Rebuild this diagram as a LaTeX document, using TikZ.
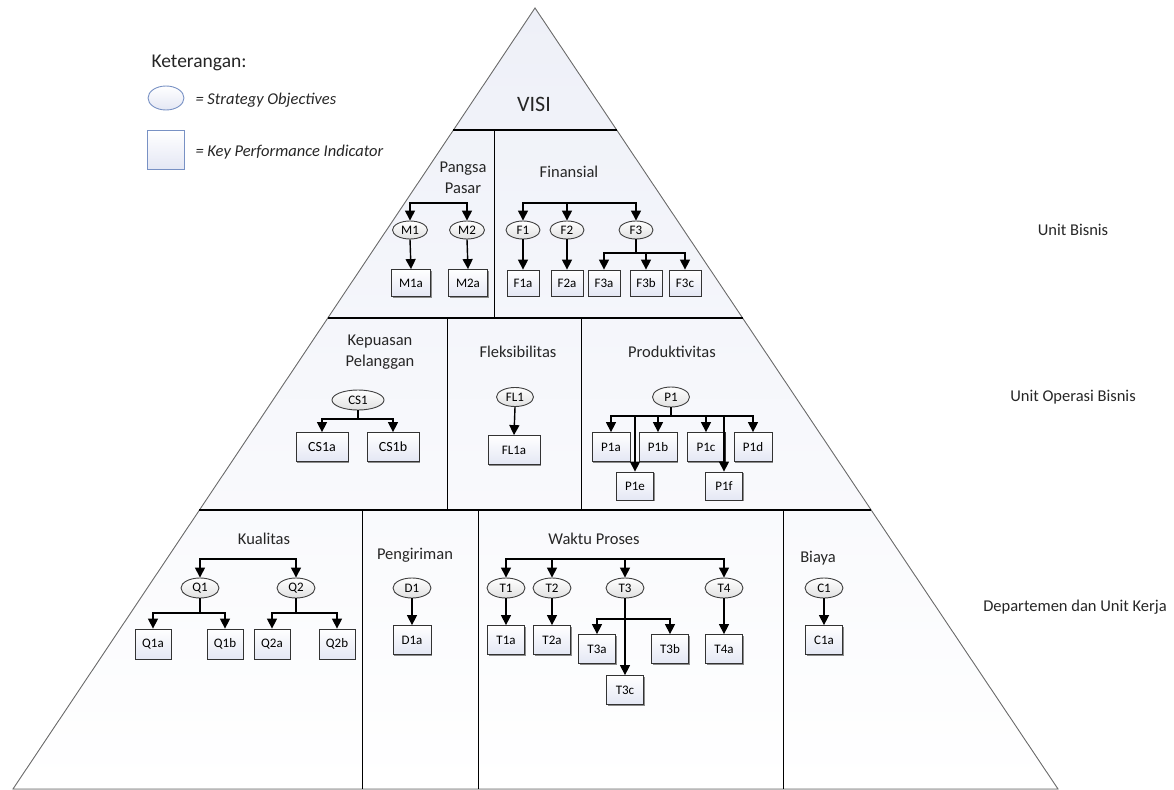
\documentclass[tikz,border=0pt]{standalone}
\usepackage{fontspec}
\setmainfont{Carlito}
\usetikzlibrary{arrows.meta,calc,shadows,shapes.geometric}
\definecolor{pyrtop}{RGB}{238,240,248}
\definecolor{kpibot}{RGB}{228,231,244}
\definecolor{legbl}{RGB}{120,145,196}
\definecolor{edgegray}{RGB}{110,110,110}
\begin{document}
\begin{tikzpicture}[x=1pt,y=-1pt,
  >={Triangle[width=10pt,length=10pt]},
  conn/.style={line width=1.4pt,black},
  so/.style={ellipse,draw=black!75,line width=0.9pt,top color=white,bottom color=black!12,
    inner sep=0pt,minimum width=37pt,minimum height=20pt,font=\fontsize{13}{13}\selectfont},
  kpi/.style={rectangle,draw=black!80,line width=0.8pt,top color=white,bottom color=kpibot,
    inner sep=0pt,minimum width=37pt,minimum height=29pt,font=\fontsize{13}{13}\selectfont,
    drop shadow={shadow xshift=1.4pt,shadow yshift=-1.4pt,fill=black!45,opacity=1}},
  ttl/.style={font=\fontsize{16.5}{21}\selectfont,align=center,text=black!85},
  lvl/.style={font=\fontsize{16.5}{20}\selectfont,text=black!85},
  divider/.style={line width=1.2pt,black}]
\useasboundingbox (0,0) rectangle (1174,789);
\coordinate (A) at (535,8);
\coordinate (BL) at (13,789);
\coordinate (BR) at (1058,789);
% pyramid
\fill[top color=pyrtop,bottom color=white] (A) -- (BR) -- (BL) -- cycle;
\draw[edgegray,line width=0.9pt] (A) -- (BR) -- (BL) -- cycle;
\draw[divider] ($(A)!{(130-8)/781}!(BL)$) -- ($(A)!{(130-8)/781}!(BR)$);
\draw[divider] ($(A)!{(318-8)/781}!(BL)$) -- ($(A)!{(318-8)/781}!(BR)$);
\draw[divider] ($(A)!{(510-8)/781}!(BL)$) -- ($(A)!{(510-8)/781}!(BR)$);
\draw[divider,line width=1pt] (494,130) -- (494,318);
\draw[divider,line width=1pt] (447,318) -- (447,510);
\draw[divider,line width=1pt] (581,318) -- (581,510);
\draw[divider,line width=1pt] (362,510) -- (362,789);
\draw[divider,line width=1pt] (478,510) -- (478,789);
\draw[divider,line width=1pt] (783,510) -- (783,789);

% legend
\node[anchor=west,font=\fontsize{19.5}{22}\selectfont,text=black!85] (leg) at (148,63) {Keterangan:};
\node[ellipse,draw=legbl,line width=0.9pt,top color=white,bottom color=kpibot,minimum width=36pt,minimum height=24pt,inner sep=0pt] (legE) at (166,98) {};
\node[anchor=west,font=\fontsize{16.5}{18}\selectfont\itshape,text=black!85] (legEt) at (192,100) {= Strategy Objectives};
\node[rectangle,draw=legbl,line width=0.9pt,top color=white,bottom color=kpibot,minimum width=37pt,minimum height=39pt,inner sep=0pt] (legR) at (166,150) {};
\node[anchor=west,font=\fontsize{16.5}{18}\selectfont\itshape,text=black!85] (legRt) at (192,152) {= Key Performance Indicator};

% VISI
\node[font=\fontsize{22}{24}\selectfont,text=black!85] (visi) at (534,104) {VISI};

% level labels
\node[lvl] (l1) at (1073,230) {Unit Bisnis};
\node[lvl] (l2) at (1073,397) {Unit Operasi Bisnis};
\node[lvl] (l3) at (1075,607) {Departemen dan Unit Kerja};

% ===== Top band =====
\node[ttl] (tPangsa) at (463,178) {Pangsa\\Pasar};
\node[ttl] (tFin) at (569,172) {Finansial};
\node[so,minimum width=35pt,minimum height=18pt] (M1) at (410,230) {M1};
\node[so,minimum width=35pt,minimum height=18pt] (M2) at (467,230) {M2};
\node[kpi,minimum width=39pt,minimum height=27pt] (M1a) at (411,283) {M1a};
\node[kpi,minimum width=39pt,minimum height=27pt] (M2a) at (468,283) {M2a};
\node[so,minimum width=34pt,minimum height=18pt] (F1) at (523,230) {F1};
\node[so,minimum width=34pt,minimum height=18pt] (F2) at (567,230) {F2};
\node[so,minimum width=34pt,minimum height=18pt] (F3) at (636,230) {F3};
\node[kpi,minimum width=32pt,minimum height=26pt] (F1a) at (523,283) {F1a};
\node[kpi,minimum width=32pt,minimum height=26pt] (F2a) at (567,283) {F2a};
\node[kpi,minimum width=32pt,minimum height=26pt] (F3a) at (604,283) {F3a};
\node[kpi,minimum width=32pt,minimum height=26pt] (F3b) at (646,283) {F3b};
\node[kpi,minimum width=32pt,minimum height=26pt] (F3c) at (685,283) {F3c};
\coordinate (busM) at (0,203);
\coordinate (busF3) at (0,253);
\draw[conn,<->] (M1.north) -- (M1.north |- busM) -- (M2.north |- busM) -- (M2.north);
\draw[conn,->] (M1.south) -- (M1a.north);
\draw[conn,->] (M2.south) -- (M2a.north);
\draw[conn,<->] (F1.north) -- (F1.north |- busM) -- (F3.north |- busM) -- (F3.north);
\draw[conn,->] (F2.north |- busM) -- (F2.north);
\draw[conn,->] (F1.south) -- (F1a.north);
\draw[conn,->] (F2.south) -- (F2a.north);
\draw[conn] (F3.south) -- (F3.south |- busF3);
\draw[conn,<->] (F3a.north) -- (F3a.north |- busF3) -- (F3c.north |- busF3) -- (F3c.north);
\draw[conn,->] (F3b.north |- busF3) -- (F3b.north);

% ===== Middle band =====
\node[ttl] (tKep) at (380,352) {Kepuasan\\Pelanggan};
\node[ttl] (tFlek) at (518,352) {Fleksibilitas};
\node[ttl] (tProd) at (672,352) {Produktivitas};
\node[so,minimum width=52pt,minimum height=20pt] (CS1) at (358,400) {CS1};
\node[kpi,minimum width=52pt,minimum height=29pt,font=\fontsize{14}{14}\selectfont] (CS1a) at (322,447) {CS1a};
\node[kpi,minimum width=52pt,minimum height=29pt,font=\fontsize{14}{14}\selectfont] (CS1b) at (393,447) {CS1b};
\coordinate (busCS) at (0,419);
\draw[conn] (CS1.south) -- (CS1.south |- busCS);
\draw[conn,<->] (CS1a.north) -- (CS1a.north |- busCS) -- (CS1b.north |- busCS) -- (CS1b.north);
\node[so,minimum width=37pt,minimum height=19pt] (FL1) at (515,397) {FL1};
\node[kpi,minimum width=52pt,minimum height=29pt] (FL1a) at (514,450) {FL1a};
\draw[conn,->] (FL1.south) -- (FL1a.north);
\node[so] (P1) at (671,397) {P1};
\node[kpi,minimum width=38pt] (P1a) at (611,447) {P1a};
\node[kpi,minimum width=38pt] (P1b) at (658,447) {P1b};
\node[kpi,minimum width=38pt] (P1c) at (706,447) {P1c};
\node[kpi,minimum width=38pt] (P1d) at (753,447) {P1d};
\node[kpi,minimum height=28pt] (P1e) at (635,486) {P1e};
\node[kpi,minimum height=28pt] (P1f) at (724,486) {P1f};
\coordinate (busP) at (0,416);
\draw[conn] (P1.south) -- (P1.south |- busP);
\draw[conn,<->] (P1a.north) -- (P1a.north |- busP) -- (P1d.north |- busP) -- (P1d.north);
\draw[conn,->] (P1b.north |- busP) -- (P1b.north);
\draw[conn,->] (P1c.north |- busP) -- (P1c.north);
\draw[conn,->] (P1e.north |- busP) -- (P1e.north);
\draw[conn,->] (P1f.north |- busP) -- (P1f.north);

% ===== Bottom band =====
\node[ttl] (tKual) at (264,539) {Kualitas};
\node[ttl] (tPeng) at (415,555) {Pengiriman};
\node[ttl] (tWaktu) at (594,539) {Waktu Proses};
\node[ttl] (tBiaya) at (818,558) {Biaya};
\coordinate (busTop) at (0,559);
\coordinate (busQ) at (0,613);
\coordinate (busT3) at (0,619);
\node[so,minimum width=38pt] (Q1) at (200,588) {Q1};
\node[so,minimum width=38pt] (Q2) at (296,588) {Q2};
\node[kpi,minimum width=36pt,minimum height=30pt] (Q1a) at (153,644) {Q1a};
\node[kpi,minimum width=36pt,minimum height=30pt] (Q1b) at (225,644) {Q1b};
\node[kpi,minimum width=36pt,minimum height=30pt] (Q2a) at (272,644) {Q2a};
\node[kpi,minimum width=36pt,minimum height=30pt] (Q2b) at (337,644) {Q2b};
\draw[conn,<->] (Q1.north) -- (Q1.north |- busTop) -- (Q2.north |- busTop) -- (Q2.north);
\draw[conn] (Q1.south) -- (Q1.south |- busQ);
\draw[conn,<->] (Q1a.north) -- (Q1a.north |- busQ) -- (Q1b.north |- busQ) -- (Q1b.north);
\draw[conn] (Q2.south) -- (Q2.south |- busQ);
\draw[conn,<->] (Q2a.north) -- (Q2a.north |- busQ) -- (Q2b.north |- busQ) -- (Q2b.north);

\node[so,minimum width=38pt] (D1) at (412,588) {D1};
\node[kpi,minimum width=38pt] (D1a) at (412,640) {D1a};
\draw[conn,->] (D1.south) -- (D1a.north);

\node[so,minimum width=38pt] (T1) at (506,588) {T1};
\node[so,minimum width=38pt] (T2) at (552,588) {T2};
\node[so,minimum width=38pt] (T3) at (625,588) {T3};
\node[so,minimum width=38pt] (T4) at (724,588) {T4};
\node[kpi] (T1a) at (506,640) {T1a};
\node[kpi] (T2a) at (552,640) {T2a};
\node[kpi] (T3a) at (597,649) {T3a};
\node[kpi] (T3b) at (670,649) {T3b};
\node[kpi] (T3c) at (625,690) {T3c};
\node[kpi] (T4a) at (724,649) {T4a};
\draw[conn,<->] (T1.north) -- (T1.north |- busTop) -- (T4.north |- busTop) -- (T4.north);
\draw[conn,->] (T2.north |- busTop) -- (T2.north);
\draw[conn,->] (T3.north |- busTop) -- (T3.north);
\draw[conn,->] (T1.south) -- (T1a.north);
\draw[conn,->] (T2.south) -- (T2a.north);
\draw[conn,->] (T3.south) -- (T3c.north);
\draw[conn,<->] (T3a.north) -- (T3a.north |- busT3) -- (T3b.north |- busT3) -- (T3b.north);
\draw[conn,->] (T4.south) -- (T4a.north);

\node[so,minimum width=38pt] (C1) at (824,588) {C1};
\node[kpi] (C1a) at (824,640) {C1a};
\draw[conn,->] (C1.south) -- (C1a.north);
\end{tikzpicture}
\end{document}
